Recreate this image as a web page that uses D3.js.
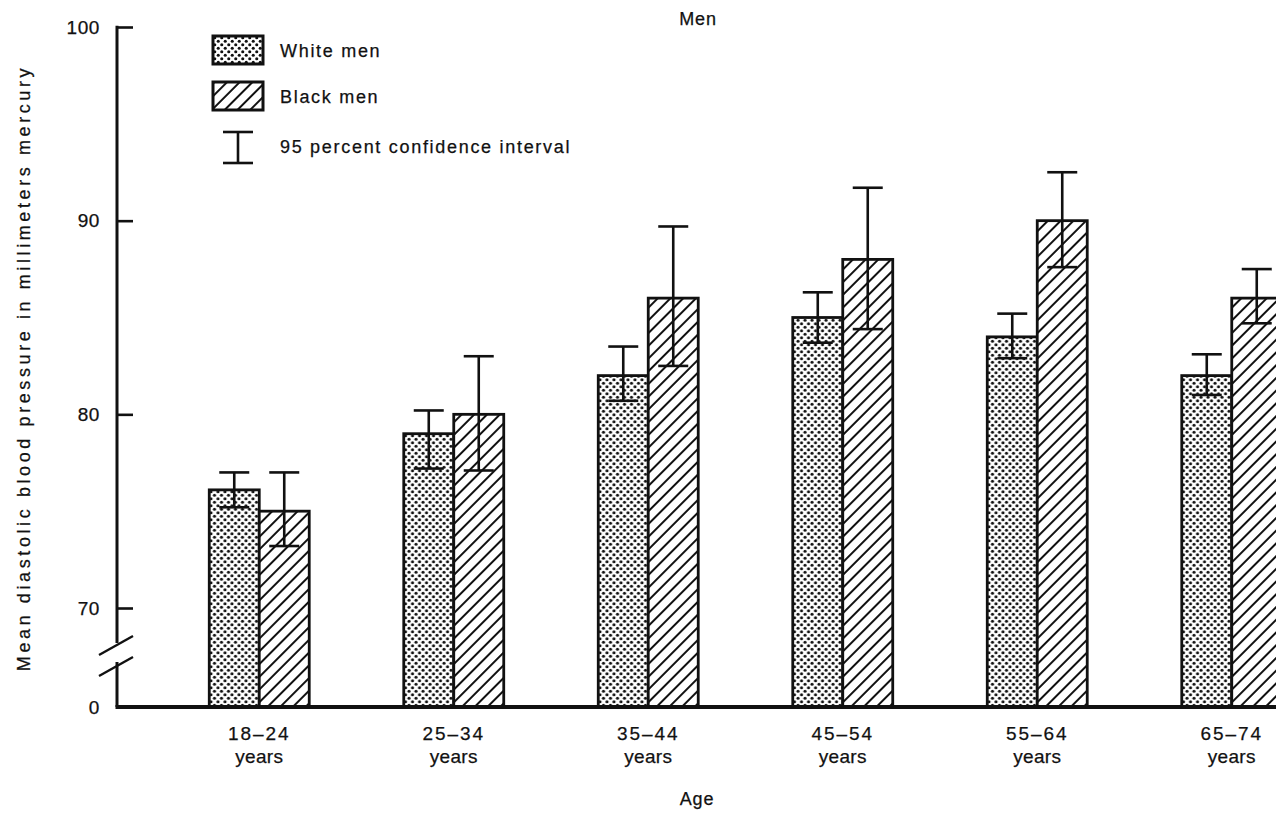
<!DOCTYPE html>
<html>
<head>
<meta charset="utf-8">
<script src="https://cdn.jsdelivr.net/npm/d3@7"></script>
<style>
  html, body { margin: 0; padding: 0; background: #fff; }
  svg { display: block; }
  text { font-family: "Liberation Sans", Arial, Helvetica, sans-serif; fill: #111; stroke: #111; stroke-width: 0.25px; }
</style>
</head>
<body>
<svg id="chart" width="1276" height="815"></svg>
<script>
// Mean diastolic blood pressure by age, white vs black men
const ageGroups = ["18–24", "25–34", "35–44", "45–54", "55–64", "65–74"];
const seriesNames = ["White men", "Black men"];
const whiteMean = [76.1, 79.0, 82.0, 85.0, 84.0, 82.0];
const whiteLow  = [75.2, 77.2, 80.7, 83.7, 82.9, 81.0];
const whiteHigh = [77.0, 80.2, 83.5, 86.3, 85.2, 83.1];
const blackMean = [75.0, 80.0, 86.0, 88.0, 90.0, 86.0];
const blackLow  = [73.2, 77.1, 82.5, 84.4, 87.6, 84.7];
const blackHigh = [77.0, 83.0, 89.7, 91.7, 92.5, 87.5];
const yTicks = [0, 70, 80, 90, 100];
const ciLabel = "95 percent confidence interval";

const svg = d3.select("#chart");
const ink = "#111";

// ---- fill patterns ----
const defs = svg.append("defs");
const dots = defs.append("pattern")
  .attr("id", "dots").attr("patternUnits", "userSpaceOnUse")
  .attr("width", 7).attr("height", 7);
dots.append("rect").attr("width", 7).attr("height", 7).attr("fill", "#fff");
[[1.75, 1.75], [5.25, 5.25]].forEach(([cx, cy]) =>
  dots.append("circle").attr("cx", cx).attr("cy", cy).attr("r", 1.55).attr("fill", ink));

const hatch = defs.append("pattern")
  .attr("id", "hatch").attr("patternUnits", "userSpaceOnUse")
  .attr("width", 9).attr("height", 9)
  .attr("patternTransform", "rotate(45)");
hatch.append("rect").attr("width", 9).attr("height", 9).attr("fill", "#fff");
hatch.append("line").attr("x1", 1).attr("y1", 0).attr("x2", 1).attr("y2", 9)
  .attr("stroke", ink).attr("stroke-width", 2);

const fills = ["url(#dots)", "url(#hatch)"];

// ---- scales ----
const axisX = 117;
const y = d3.scaleLinear().domain([0, 70, 100]).range([707, 608, 27]);
const x0 = d3.scaleBand().domain(ageGroups)
  .range([162, 1329]).paddingInner(0.486).paddingOuter(0.243);
const x1 = d3.scaleBand().domain(seriesNames).range([0, x0.bandwidth()]);

const rows = ageGroups.map((g, i) => ({
  group: g,
  bars: [
    { s: seriesNames[0], v: whiteMean[i], lo: whiteLow[i], hi: whiteHigh[i] },
    { s: seriesNames[1], v: blackMean[i], lo: blackLow[i], hi: blackHigh[i] }
  ]
}));

// ---- bars ----
const groups = svg.append("g").selectAll("g").data(rows).join("g")
  .attr("transform", d => `translate(${x0(d.group)},0)`);

groups.selectAll("rect").data(d => d.bars).join("rect")
  .attr("x", d => x1(d.s))
  .attr("y", d => y(d.v))
  .attr("width", x1.bandwidth())
  .attr("height", d => y(0) - y(d.v))
  .attr("fill", (d, i) => fills[i])
  .attr("stroke", ink).attr("stroke-width", 2.8);

// ---- confidence intervals ----
const capW = 30;
const ci = groups.selectAll("g.ci").data(d => d.bars).join("g").attr("class", "ci")
  .attr("stroke", ink).attr("stroke-width", 2.6);
ci.append("line")
  .attr("x1", d => x1(d.s) + x1.bandwidth() / 2).attr("x2", d => x1(d.s) + x1.bandwidth() / 2)
  .attr("y1", d => y(d.lo)).attr("y2", d => y(d.hi));
ci.append("line")
  .attr("x1", d => x1(d.s) + x1.bandwidth() / 2 - capW / 2).attr("x2", d => x1(d.s) + x1.bandwidth() / 2 + capW / 2)
  .attr("y1", d => y(d.hi)).attr("y2", d => y(d.hi));
ci.append("line")
  .attr("x1", d => x1(d.s) + x1.bandwidth() / 2 - capW / 2).attr("x2", d => x1(d.s) + x1.bandwidth() / 2 + capW / 2)
  .attr("y1", d => y(d.lo)).attr("y2", d => y(d.lo));

// ---- y axis with scale break ----
const yAxis = svg.append("g").attr("transform", `translate(${axisX},0)`)
  .call(d3.axisLeft(y).tickValues(yTicks).tickSizeInner(-16).tickSizeOuter(0).tickPadding(17));
yAxis.select(".domain").remove();
yAxis.selectAll(".tick line").attr("stroke", ink).attr("stroke-width", 2.6);
yAxis.selectAll(".tick text")
  .style("font-size", "19px").style("letter-spacing", "0.6px").attr("fill", ink).attr("font-family", null);
yAxis.selectAll(".tick").filter(d => d === 0).select("line").remove();

const axisG = svg.append("g").attr("stroke", ink).attr("stroke-width", 3);
axisG.append("line").attr("x1", axisX).attr("x2", axisX).attr("y1", y(100) - 1.3).attr("y2", 643);
axisG.append("line").attr("x1", axisX).attr("x2", axisX).attr("y1", 662).attr("y2", y(0));
axisG.append("line").attr("x1", 99).attr("y1", 655).attr("x2", 133).attr("y2", 636).attr("stroke-width", 2.4);
axisG.append("line").attr("x1", 99).attr("y1", 676).attr("x2", 133).attr("y2", 657).attr("stroke-width", 2.4);
// baseline
svg.append("line").attr("x1", axisX - 1.5).attr("x2", 1276)
  .attr("y1", y(0)).attr("y2", y(0)).attr("stroke", ink).attr("stroke-width", 4);

// ---- category labels ----
const cat = svg.append("g").selectAll("g").data(ageGroups).join("g")
  .attr("transform", d => `translate(${x0(d) + x0.bandwidth() / 2},0)`);
cat.append("text").attr("y", 740).attr("text-anchor", "middle")
  .style("font-size", "19px").style("letter-spacing", "1.9px").text(d => d);
cat.append("text").attr("y", 763).attr("text-anchor", "middle")
  .style("font-size", "19px").style("letter-spacing", "0.3px").text("years");

// ---- titles ----
svg.append("text").attr("x", 698).attr("y", 25).attr("text-anchor", "middle")
  .style("font-size", "18px").style("letter-spacing", "0.8px").text("Men");
svg.append("text").attr("x", 697).attr("y", 805).attr("text-anchor", "middle")
  .style("font-size", "18px").style("letter-spacing", "0.8px").text("Age");
svg.append("text").attr("transform", "translate(30,368) rotate(-90)")
  .attr("text-anchor", "middle")
  .style("font-size", "18px").style("letter-spacing", "3.6px")
  .text("Mean diastolic blood pressure in millimeters mercury");

// ---- legend ----
const legend = svg.append("g");
const lg = legend.selectAll("g").data(seriesNames).join("g")
  .attr("transform", (d, i) => `translate(213,${36 + i * 46})`);
lg.append("rect").attr("width", 50).attr("height", 28)
  .attr("fill", (d, i) => fills[i]).attr("stroke", ink).attr("stroke-width", 3);
lg.append("text").attr("x", 67).attr("y", 21)
  .style("font-size", "18px").style("letter-spacing", "1.7px").text(d => d);
const lci = legend.append("g").attr("transform", "translate(238,132)")
  .attr("stroke", ink).attr("stroke-width", 2.6);
lci.append("line").attr("x1", 0).attr("x2", 0).attr("y1", 0).attr("y2", 31);
lci.append("line").attr("x1", -15).attr("x2", 15).attr("y1", 0).attr("y2", 0);
lci.append("line").attr("x1", -15).attr("x2", 15).attr("y1", 31).attr("y2", 31);
legend.append("text").attr("x", 280).attr("y", 153)
  .style("font-size", "18px").style("letter-spacing", "1.7px").text(ciLabel);
</script>
</body>
</html>
